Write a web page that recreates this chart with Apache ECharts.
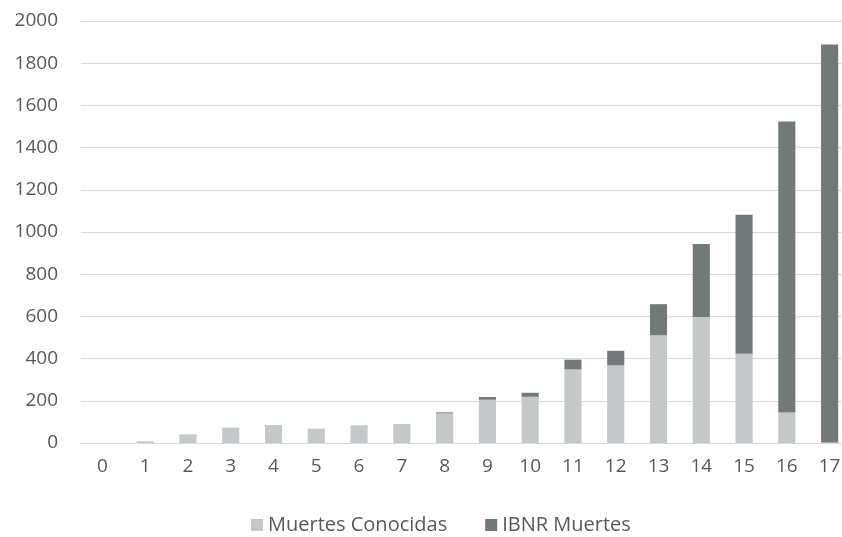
<!DOCTYPE html>
<html>
<head>
<meta charset="utf-8">
<script src="https://cdn.jsdelivr.net/npm/echarts@6/dist/echarts.min.js"></script>
<style>
html,body{margin:0;padding:0;background:#fff;}
#c{width:842px;height:537px;}
</style>
</head>
<body>
<div id="c"></div>
<script>
var categories = ['0','1','2','3','4','5','6','7','8','9','10','11','12','13','14','15','16','17'];
var conocidas = [0, 8, 41, 73, 85, 68, 84, 90, 140, 205, 219, 349, 368, 510, 597, 423, 144, 2];
var ibnr = [0, 0, 0, 0, 0, 0, 0, 0, 5, 13, 19, 46, 69, 148, 346, 659, 1380, 1887];
var yTicks = {min: 0, max: 2000, interval: 200};

var chart = echarts.init(document.getElementById('c'), null, {renderer: 'canvas'});
var font = '"Open Sans", sans-serif';
chart.setOption({
  animation: false,
  backgroundColor: '#ffffff',
  textStyle: {fontFamily: font},
  grid: {left: 81, top: 21, width: 770, height: 422, containLabel: false, outerBoundsMode: 'none'},
  legend: {
    top: 510,
    left: 246,
    itemWidth: 12,
    itemHeight: 12,
    itemGap: 38,
    icon: 'rect',
    textStyle: {fontFamily: font, fontSize: 20, color: '#595959'},
    data: ['Muertes Conocidas', 'IBNR Muertes']
  },
  xAxis: {
    type: 'category',
    data: categories,
    axisLine: {show: true, lineStyle: {color: '#d9d9d9', width: 1}},
    axisTick: {show: false},
    axisLabel: {color: '#595959', fontSize: 19, fontFamily: font, margin: 14}
  },
  yAxis: {
    type: 'value',
    min: yTicks.min,
    max: yTicks.max,
    interval: yTicks.interval,
    axisLine: {show: false},
    axisTick: {show: false},
    axisLabel: {color: '#595959', fontSize: 19, fontFamily: font, margin: 23,
      formatter: function (v) { return String(v); }},
    splitLine: {lineStyle: {color: '#d9d9d9', width: 1}}
  },
  series: [
    {
      name: 'Muertes Conocidas',
      type: 'bar',
      stack: 'total',
      barWidth: '40%',
      itemStyle: {color: '#c4c8c8'},
      data: conocidas
    },
    {
      name: 'IBNR Muertes',
      type: 'bar',
      stack: 'total',
      barWidth: '40%',
      itemStyle: {color: '#737879'},
      data: ibnr
    }
  ]
});
</script>
</body>
</html>
